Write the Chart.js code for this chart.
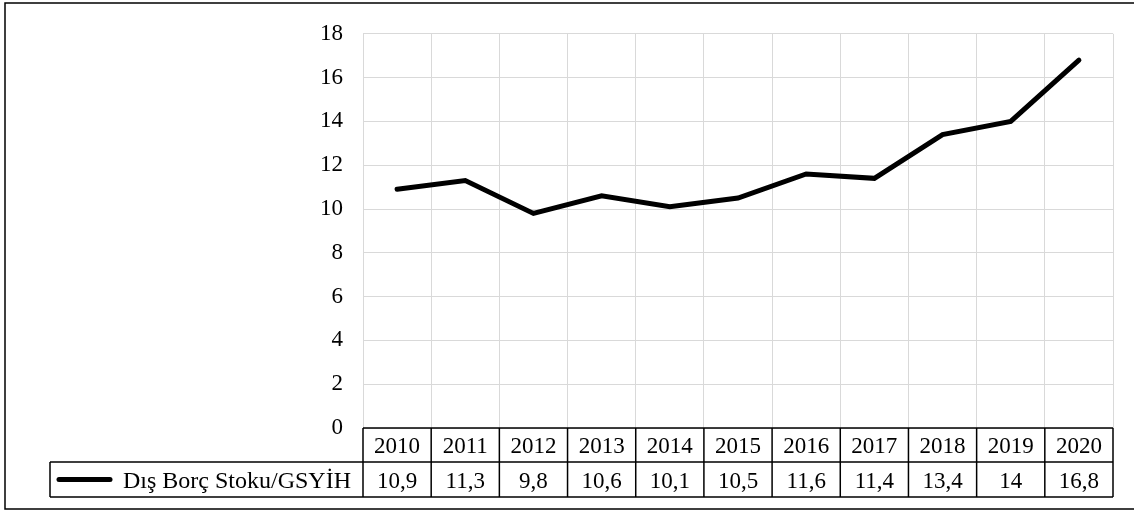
<!DOCTYPE html>
<html>
<head>
<meta charset="utf-8">
<style>
  html, body { margin: 0; padding: 0; background: #fff; }
  #wrap { width: 1134px; height: 511px; }
</style>
<script src="https://cdn.jsdelivr.net/npm/chart.js@4.4.0/dist/chart.umd.min.js"></script>
</head>
<body>
<div id="wrap"><canvas id="myChart" width="1134" height="511"></canvas></div>
<script>
const yillar = ['2010', '2011', '2012', '2013', '2014', '2015', '2016', '2017', '2018', '2019', '2020'];
const borcOrani = [10.9, 11.3, 9.8, 10.6, 10.1, 10.5, 11.6, 11.4, 13.4, 14, 16.8];
const seriAdi = 'Dış Borç Stoku/GSYİH';

const yaziTipi = '"Liberation Serif", "Times New Roman", serif';

// veri tablosu + dis cerceve
const tabloEklentisi = {
    id: 'veriTablosu',
    afterDraw(chart) {
        const ctx = chart.ctx;
        const x = chart.scales.x;
        const alan = chart.chartArea;
        const genislik = (alan.right - alan.left) / yillar.length;
        const ust = alan.bottom;
        const orta = ust + 34;
        const alt = orta + 35;
        const legendSol = 50;

        ctx.save();
        ctx.strokeStyle = '#000';
        ctx.lineWidth = 1.5;

        // yatay cizgiler
        ctx.beginPath();
        ctx.moveTo(alan.left, ust);
        ctx.lineTo(alan.right, ust);
        ctx.moveTo(legendSol, orta);
        ctx.lineTo(alan.right, orta);
        ctx.moveTo(legendSol, alt);
        ctx.lineTo(alan.right, alt);
        // dikey cizgiler
        for (let i = 0; i <= yillar.length; i++) {
            const px = alan.left + i * genislik;
            ctx.moveTo(px, ust);
            ctx.lineTo(px, alt);
        }
        ctx.moveTo(legendSol, orta);
        ctx.lineTo(legendSol, alt);
        ctx.stroke();

        // yazilar
        ctx.fillStyle = '#000';
        ctx.font = '23px ' + yaziTipi;
        ctx.textAlign = 'center';
        ctx.textBaseline = 'middle';
        yillar.forEach((yil, i) => {
            const cx = x.getPixelForValue(i);
            ctx.fillText(yil, cx, (ust + orta) / 2 + 2);
            ctx.fillText(String(borcOrani[i]).replace('.', ','), cx, (orta + alt) / 2 + 2);
        });

        // legend
        ctx.lineWidth = 5;
        ctx.lineCap = 'round';
        ctx.beginPath();
        ctx.moveTo(59, (orta + alt) / 2);
        ctx.lineTo(110, (orta + alt) / 2);
        ctx.stroke();
        ctx.textAlign = 'left';
        ctx.font = '24px ' + yaziTipi;
        ctx.fillText(seriAdi, 123, (orta + alt) / 2 + 2);

        // dis cerceve
        ctx.lineWidth = 1.5;
        ctx.lineCap = 'butt';
        ctx.beginPath();
        ctx.moveTo(1140, 3);
        ctx.lineTo(5, 3);
        ctx.lineTo(5, 509);
        ctx.lineTo(1140, 509);
        ctx.stroke();
        ctx.restore();
    }
};

const config = {
    type: 'line',
    data: {
        labels: yillar,
        datasets: [{
            label: seriAdi,
            data: borcOrani,
            borderColor: '#000',
            borderWidth: 5,
            borderCapStyle: 'round',
            borderJoinStyle: 'miter',
            pointRadius: 0,
            tension: 0,
            fill: false
        }]
    },
    options: {
        responsive: false,
        animation: false,
        layout: {
            padding: { left: 0, top: 32, right: 21, bottom: 83 }
        },
        plugins: {
            legend: { display: false },
            title: { display: false },
            tooltip: { enabled: false }
        },
        scales: {
            x: {
                offset: true,
                ticks: { display: false },
                grid: { color: '#d9d9d9', lineWidth: 1, drawTicks: false, offset: true },
                border: { display: false },
                afterFit(scale) { scale.height = 0; }
            },
            y: {
                min: 0,
                max: 18,
                ticks: {
                    stepSize: 2,
                    padding: 20,
                    color: '#000',
                    font: { family: yaziTipi, size: 23 }
                },
                grid: { color: '#d9d9d9', lineWidth: 1, drawTicks: false },
                border: { display: false },
                afterFit(scale) { scale.width = 363; }
            }
        }
    },
    plugins: [tabloEklentisi]
};

const ctx = document.getElementById('myChart').getContext('2d');
new Chart(ctx, config);
</script>
</body>
</html>
